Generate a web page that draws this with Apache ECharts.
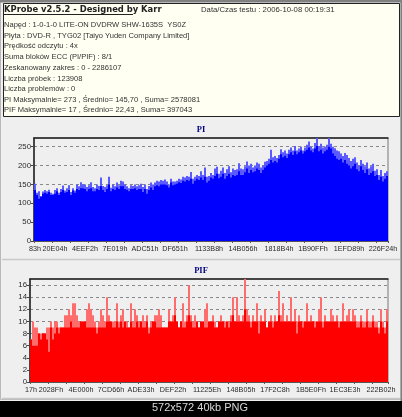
<!DOCTYPE html>
<html><head><meta charset="utf-8">
<style>html,body{margin:0;padding:0;background:#000;overflow:hidden}#c{width:402px;height:417px}</style>
<script src="https://cdn.jsdelivr.net/npm/echarts@6/dist/echarts.min.js"></script>
</head><body><div id="c"></div>
<script>
const titleLine = 'KProbe v2.5.2 - Designed by Karr';
const dateLine = 'Data/Czas testu : 2006-10-08 00:19:31';
const infoLines = [
 'Napęd : 1-0-1-0 LITE-ON DVDRW SHW-1635S  YS0Z',
 'Płyta : DVD-R , TYG02 [Taiyo Yuden Company Limited]',
 'Prędkość odczytu : 4x',
 'Suma bloków ECC (PI/PIF) : 8/1',
 'Zeskanowany zakres : 0 - 2286107',
 'Liczba próbek : 123908',
 'Liczba problemów : 0',
 'PI Maksymalnie= 273 , Średnio= 145,70 , Suma= 2578081',
 'PIF Maksymalnie= 17 , Średnio= 22,43 , Suma= 397043'
];
const footerText = '572x572 40kb PNG';

const piTickLabels = ['83h','20E04h','4EEF2h','7E019h','ADC51h','DF651h','1133B8h','14B056h','1818B4h','1B90FFh','1EFD89h','226F24h'];
const piTickSamples = [0,10,25,40,55,70,87,104,122,139,157,174];
const pifTickLabels = ['17h','2028Fh','4E000h','7CD66h','ADE33h','DEF22h','11225Eh','148B05h','17F2C8h','1B5E0Fh','1EC3E3h','222B02h'];
const pifTickSamples = [0,10,25,40,55,71,88,105,122,140,157,175];

const piPeak = [
152,128,132,118,131,135,132,136,128,125,
135,140,128,138,147,134,140,148,130,140,
134,150,145,156,150,150,143,148,156,143,
140,150,146,168,146,143,148,170,141,150,
145,155,148,160,158,150,145,140,148,146,
150,145,148,152,143,150,138,146,155,150,
155,160,158,162,160,163,158,150,165,158,
158,160,165,163,170,168,172,170,183,165,
170,175,172,185,175,195,170,172,180,175,
192,197,178,186,195,180,190,198,182,192,
188,190,206,192,190,198,211,200,205,195,
200,208,205,195,200,210,212,218,242,222,
225,220,228,243,235,240,232,242,248,240,
252,240,245,250,240,248,255,264,250,245,
260,273,252,258,248,250,255,273,258,250,
246,240,238,232,225,233,228,220,212,218,
222,208,200,215,205,198,208,192,198,205,
186,190,175,188,172,180,185];
const piBase = [
135,122,112,118,125,128,125,130,122,122,
125,132,122,130,135,128,130,135,122,134,
128,138,135,140,140,138,132,138,140,132,
132,138,135,145,135,130,138,150,132,138,
135,142,138,145,145,138,136,132,138,138,
140,135,138,138,130,138,125,135,142,135,
145,148,145,150,150,150,148,142,155,148,
150,152,156,154,160,158,162,160,165,152,
160,165,162,168,162,170,155,160,168,165,
172,178,166,170,178,165,172,178,168,175,
172,175,185,175,175,182,192,180,188,182,
185,192,188,180,188,195,200,205,215,208,
212,208,218,230,222,226,220,230,235,228,
238,230,235,240,232,238,242,248,240,235,
245,252,238,242,232,238,242,250,245,232,
225,218,215,218,208,215,205,200,192,198,
205,190,185,198,188,180,190,175,180,185,
172,175,162,170,158,165,172];
const pifPeak = [
7,10,9,9,8,8,8,8,9,9,
10,9,10,10,9,9,9,11,11,12,
11,13,13,11,10,10,10,10,12,13,
12,11,10,9,10,12,11,10,14,11,
10,10,10,13,10,11,12,10,10,9,
13,10,12,11,10,10,11,10,11,9,
10,10,11,11,12,11,9,9,9,12,
10,11,14,10,9,10,13,10,11,16,
11,10,11,10,9,10,10,12,13,10,
10,11,10,9,10,11,10,10,10,10,
11,14,10,14,11,10,11,17,12,11,
10,11,10,13,10,11,10,12,9,10,
11,10,11,10,15,11,13,10,11,10,
14,10,12,10,11,10,10,10,13,10,
11,10,10,10,12,14,10,11,10,10,
12,11,10,11,10,10,13,10,11,12,
10,12,11,10,10,11,10,10,12,10,
10,11,10,10,9,12,10,9,12];
const pifBase = [
7,6,6,6,8,7,8,8,7,5,
9,7,8,9,8,9,9,9,9,9,
10,9,9,9,9,10,10,10,9,9,
9,9,9,8,9,9,9,9,10,10,
10,9,9,10,9,10,9,10,9,9,
10,9,9,10,9,10,9,9,10,8,
9,10,10,9,9,9,9,9,9,10,
10,10,11,10,9,10,9,9,10,11,
10,9,9,10,9,10,10,9,9,10,
10,10,9,9,10,10,10,9,10,9,
10,11,10,10,10,10,10,12,10,10,
9,10,10,10,8,10,10,10,9,10,
10,9,10,10,11,10,10,10,10,10,
10,10,10,8,10,10,9,10,10,10,
10,10,9,10,10,10,9,10,10,10,
10,10,10,10,9,10,10,10,10,10,
10,10,10,9,9,10,9,9,10,9,
9,10,9,9,8,10,9,8,10];

function cats(n, samples, labels){
  const a = new Array(n).fill('');
  samples.forEach((s,i)=>{a[s]=labels[i];});
  return a;
}
const piCats = cats(piPeak.length, piTickSamples, piTickLabels);
const pifCats = cats(pifPeak.length, pifTickSamples, pifTickLabels);
const uiFont = '"Liberation Sans"';
const inkColor = '#2a2a2a';

function xAxisFor(idx, data){
  return {type:'category', gridIndex:idx, data, position:'bottom',
    axisLine:{show:true,onZero:false,lineStyle:{color:'#555',width:1}},
    axisTick:{show:true,length:2,interval:(i)=>i%9===0,lineStyle:{color:'#555'}},
    axisLabel:{interval:(i,v)=>v!=='',fontFamily:uiFont,fontSize:7.2,color:inkColor,margin:5},
    splitLine:{show:false}};
}
function topAxis(idx){
  return {type:'value', gridIndex:idx, position:'top', min:0,max:1,
    axisLine:{show:true,onZero:false,lineStyle:{color:'#222',width:1.5}},
    axisTick:{show:false},axisLabel:{show:false},splitLine:{show:false}};
}
function yAxisFor(idx,max,interval){
  return {type:'value',gridIndex:idx,min:0,max,interval,
    axisLine:{show:true,onZero:false,lineStyle:{color:'#222',width:1.5}},
    axisTick:{show:true,length:3,lineStyle:{color:'#444'}},
    axisLabel:{fontFamily:uiFont,fontSize:7.8,color:inkColor,margin:3,showMaxLabel:false},
    splitLine:{show:true,showMaxLine:false,lineStyle:{color:'#888',type:[3,3],width:1}}};
}
function barSeries(name,idx,data,color,z){
  return {name,type:'bar',xAxisIndex:idx,yAxisIndex:idx,data,barWidth:'100%',barGap:'-100%',
    itemStyle:{color},silent:true,animation:false,z};
}
const gfx = [
  {type:'rect',silent:true,z:-10,shape:{x:0,y:0,width:402,height:401},style:{fill:'#efefef'}},
  {type:'rect',silent:true,z:-9,shape:{x:0.5,y:0.5,width:400.5,height:399},style:{fill:'none',stroke:'#b8b8b8',lineWidth:1}},
  {type:'rect',silent:true,z:-9,shape:{x:0,y:0,width:402,height:2.5},style:{fill:'#808080'}},
  {type:'rect',silent:true,z:-9,shape:{x:400.5,y:0,width:1.5,height:401},style:{fill:'#808080'}},
  {type:'rect',silent:true,z:-8,shape:{x:3.5,y:3.5,width:396,height:113},style:{fill:'#fffff2',stroke:'#222',lineWidth:1}},
  {type:'line',silent:true,z:-8,shape:{x1:2,y1:259.5,x2:400,y2:259.5},style:{stroke:'#c8c8c8',lineWidth:1.5}},
  {type:'line',silent:true,z:-8,shape:{x1:2,y1:398.5,x2:400,y2:398.5},style:{stroke:'#c8c8c8',lineWidth:1.5}},
  {type:'text',silent:true,x:4,y:9.5,style:{text:titleLine,font:'bold 8.4px "DejaVu Sans"',fill:'#222',textVerticalAlign:'middle'}},
  {type:'line',silent:true,shape:{x1:4,y1:14.5,x2:133,y2:14.5},style:{stroke:'#222',lineWidth:1}},
  {type:'text',silent:true,x:201,y:9.5,style:{text:dateLine,font:'7.75px '+uiFont,fill:'#333',textVerticalAlign:'middle'}},
  {type:'text',silent:true,x:200,y:408,style:{text:footerText,font:'11px '+uiFont,fill:'#d8d8d8',textAlign:'center',textVerticalAlign:'middle'}}
];
const lineYs = [25.3,35.7,46.3,57,67.7,78.7,89,100,110.3];
infoLines.forEach((t,i)=>gfx.push({type:'text',silent:true,x:4,y:lineYs[i],
  style:{text:t,font:'7.55px '+uiFont,fill:'#333',textVerticalAlign:'middle'}}));

const chart = echarts.init(document.getElementById('c'),null,{renderer:'canvas',width:402,height:417});
const titleStyle={fontFamily:'"Liberation Serif"',fontWeight:'bold',fontSize:8.5,color:'#000080'};
chart.setOption({
  animation:false,
  backgroundColor:'#000',
  title:[
    {text:'PI',left:201,top:125,textAlign:'center',textStyle:titleStyle,padding:0},
    {text:'PIF',left:201,top:266,textAlign:'center',textStyle:titleStyle,padding:0}
  ],
  grid:[
    {left:34,top:138,width:354,height:103,show:true,backgroundColor:'#efefef',borderColor:'#777',borderWidth:1,containLabel:false},
    {left:30,top:279,width:358,height:103,show:true,backgroundColor:'#efefef',borderColor:'#777',borderWidth:1,containLabel:false}
  ],
  xAxis:[xAxisFor(0,piCats),xAxisFor(1,pifCats),topAxis(0),topAxis(1)],
  yAxis:[yAxisFor(0,273,50),yAxisFor(1,17,2)],
  series:[
    barSeries('PI max',0,piPeak,'#5a5aff',2),
    barSeries('PI',0,piBase,'#0000ff',3),
    barSeries('PIF max',1,pifPeak,'#ff6c6c',2),
    barSeries('PIF',1,pifBase,'#ff0000',3)
  ],
  graphic:gfx
});
</script></body></html>
